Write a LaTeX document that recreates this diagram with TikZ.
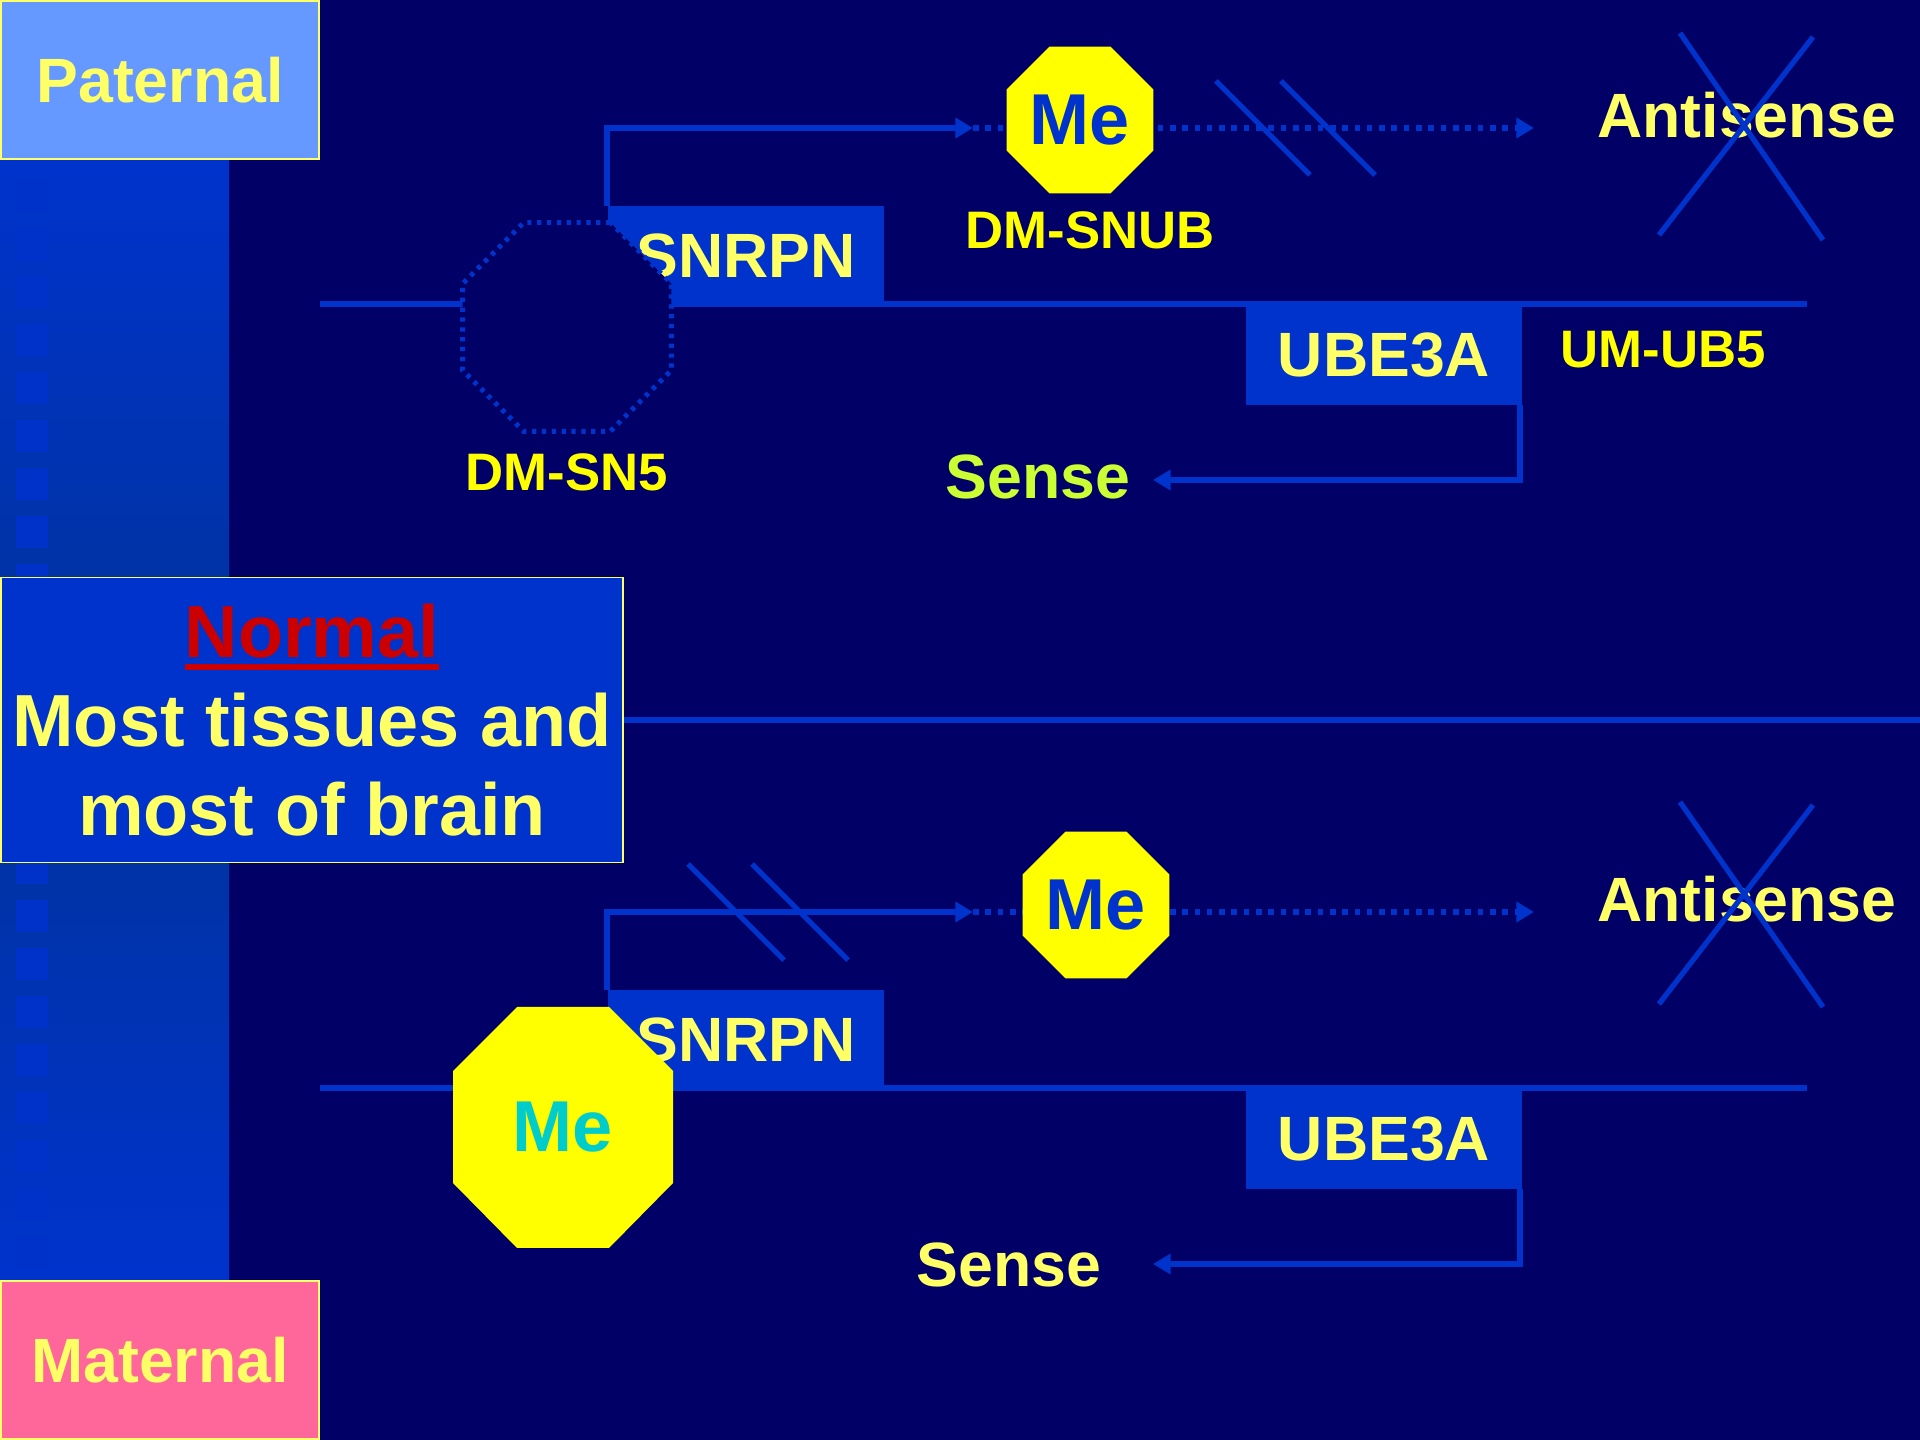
\documentclass[tikz,border=0pt]{standalone}
\usepackage{fontspec}
\setmainfont{Liberation Sans}
\usepackage{xcolor}
\usetikzlibrary{arrows.meta, shapes.geometric, positioning}

\definecolor{navy}{HTML}{000066}
\definecolor{dnablue}{HTML}{0033CC}
\definecolor{barmid}{HTML}{003399}
\definecolor{barsquare}{HTML}{0032CA}
\definecolor{paleyellow}{HTML}{FFFF66}
\definecolor{tagyellow}{HTML}{FFFF00}
\definecolor{paternalblue}{HTML}{6699FF}
\definecolor{maternalpink}{HTML}{FF6699}
\definecolor{normalred}{HTML}{CC0000}
\definecolor{methcyan}{HTML}{00CCCC}
\definecolor{sensegreen}{HTML}{CCFF33}

\newcommand{\blockfont}{\bfseries\fontsize{21pt}{25.3pt}\selectfont}
\newcommand{\genefont}{\bfseries\fontsize{17.8pt}{21pt}\selectfont}
\newcommand{\tagfont}{\bfseries\fontsize{15pt}{18pt}\selectfont}
\newcommand{\methfont}{\bfseries\fontsize{20.5pt}{24pt}\selectfont}
\newcommand{\redunder}[1]{\setbox0\hbox{#1}\rlap{\vrule width \wd0 height -1.9pt depth 3.6pt}\box0}

\tikzset{
  strand/.style={draw=dnablue, line width=1.6pt},
  dotstrand/.style={strand, dash pattern=on 1.6pt off 1.9pt},
  tipped/.style={-{Triangle[length=5pt,width=5.6pt]}},
  breakmark/.style={draw=dnablue, line width=1.5pt},
  sidebox/.style={draw=paleyellow, line width=0.6pt, text=paleyellow, font=\genefont, inner sep=0pt, minimum width=3.18cm, minimum height=1.58cm},
  gene/.style={fill=dnablue, text=paleyellow, font=\genefont, inner sep=0pt, minimum width=2.76cm, minimum height=0.99cm},
  octagon/.style={regular polygon, regular polygon sides=8, inner sep=0pt},
  meth/.style={octagon, fill=tagyellow, text=dnablue, font=\methfont, minimum size=1.59cm},
  smalltag/.style={text=tagyellow, font=\tagfont, inner sep=0pt},
  strandlabel/.style={text=paleyellow, font=\genefont, inner sep=0pt},
}

\begin{document}
\begin{tikzpicture}[x=0.01cm, y=-0.01cm]
  % background and page size
  \useasboundingbox (0,0) rectangle (1920,1440);
  \fill[navy] (0,0) rectangle (1920,1440);

  % shaded side bar with its column of squares
  \shade[top color=dnablue, bottom color=dnablue, middle color=barmid] (0,160) rectangle (229,1280);
  \foreach \y in {180,228,...,1236} {
      \fill[barsquare] (16,\y) rectangle ++(32,32);
    }

  % paternal and maternal labels
  \node[sidebox, fill=paternalblue] (paternal) at (160,80) {Paternal};
  \node[sidebox, fill=maternalpink] (maternal) at (160,1360) {Maternal};

  % tissue box and the divider
  \node[draw=paleyellow, line width=0.5pt, fill=dnablue, text=paleyellow, font=\blockfont,
    align=center, inner sep=0pt, minimum width=6.22cm, minimum height=2.85cm] (normal)
    at (312,720) {\textcolor{normalred}{\redunder{Normal}}\\Most tissues and\\most of brain};
  \draw[strand] (normal.east) -- (1920,720);

  % paternal chromosome
  \draw[strand] (320,304) -- (1807,304);
  \node[gene] (snrpn1) at (746,256) {SNRPN};
  \node[gene] (ube1) at (1384,355) {UBE3A};

  % paternal transcripts
  \coordinate (tss1) at (973,128);
  \coordinate (antiend1) at (1534,128);
  \coordinate (senseend1) at (1153,480);
  \draw[strand, tipped] (snrpn1.north west) |- (tss1);
  \draw[dotstrand, tipped] (tss1) -- (antiend1);
  \draw[strand, tipped] ([xshift=-0.03cm]ube1.south east) |- (senseend1);

  % paternal methylation sites
  \node[octagon, draw=dnablue, fill=navy, line width=1.4pt, dash pattern=on 1.2pt off 1.6pt,
    minimum size=2.26cm] (dmsn1) at (567,327) {};
  \node[smalltag, below=0.19cm of dmsn1] (dmsnlabel1) {DM-SN5};
  \node[meth] (me1) at (1080,120) {Me};
  \node[smalltag, below=0.17cm of me1, xshift=0.1cm] (snublabel) {DM-SNUB};
  \node[smalltag] (ub5label) at (1663,350) {UM-UB5};
  \node[strandlabel] (anti1) at (1747,115) {Antisense};
  \node[strandlabel, text=sensegreen] (sense1) at (1038,477) {Sense};

  % break marks and crossed out antisense
  \foreach \dx in {0,65} {
      \draw[breakmark] (1216+\dx,81) -- ++(94,94);
    }
  \draw[breakmark] (1680,33) -- (1823,240);
  \draw[breakmark] (1813,37) -- (1659,235);

  % maternal chromosome
  \draw[strand] (320,1088) -- (1807,1088);
  \node[gene] (snrpn2) at (746,1040) {SNRPN};
  \node[gene] (ube2) at (1384,1139) {UBE3A};

  % maternal transcripts
  \coordinate (tss2) at (973,912);
  \coordinate (antiend2) at (1534,912);
  \coordinate (senseend2) at (1153,1264);
  \draw[strand, tipped] (snrpn2.north west) |- (tss2);
  \draw[dotstrand, tipped] (tss2) -- (antiend2);
  \draw[strand, tipped] ([xshift=-0.03cm]ube2.south east) |- (senseend2);

  % maternal methylation sites
  \fill[tagyellow] (517,1007) -- (609,1007) -- (673,1071) -- (673,1183) -- (609,1248)
    -- (517,1248) -- (453,1183) -- (453,1071) -- cycle;
  \node[text=methcyan, font=\methfont, inner sep=0pt] (me3) at (563,1127) {Me};
  \node[meth] (me2) at (1096,905) {Me};
  \node[strandlabel] (anti2) at (1747,899) {Antisense};
  \node[strandlabel] (sense2) at (1009,1265) {Sense};

  % break marks and crossed out antisense
  \foreach \dx in {0,64} {
      \draw[breakmark] (688+\dx,864) -- ++(96,96);
    }
  \draw[breakmark] (1680,802) -- (1823,1007);
  \draw[breakmark] (1813,805) -- (1659,1004);
\end{tikzpicture}
\end{document}
